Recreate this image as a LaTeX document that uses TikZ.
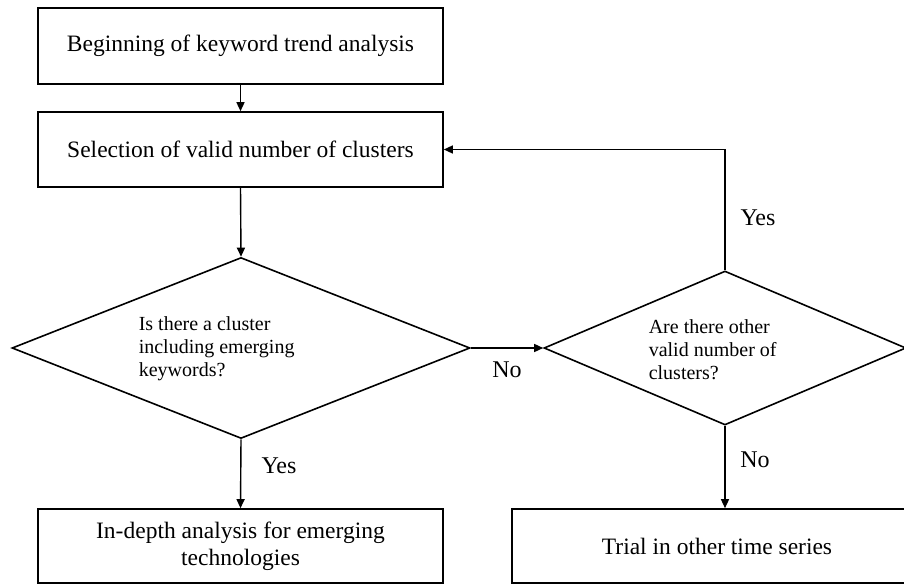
\documentclass[tikz,border=0pt]{standalone}
\usepackage{fontspec}
\setmainfont{Liberation Serif}
\usetikzlibrary{arrows.meta,shapes.geometric}
\begin{document}
\begin{tikzpicture}[x=1pt,y=-1pt,
  line width=1.6pt,
  stepbox/.style={draw,rectangle,inner sep=0pt,align=center,
    font=\fontsize{23.5}{27}\selectfont},
  decision/.style={draw,diamond,inner sep=0pt},
  qtext/.style={align=left,anchor=west,inner sep=0pt,
    font=\fontsize{20}{23}\selectfont},
  lbl/.style={inner sep=0pt,font=\fontsize{24}{26}\selectfont},
  flow/.style={-{Triangle[length=9pt,width=8pt]},line width=1.4pt}]
\useasboundingbox (0,0) rectangle (904,585);
\clip (0,0) rectangle (904,585);

% process boxes
\node[stepbox,minimum width=405pt,minimum height=76pt] (b1) at (240.5,46)
  {Beginning of keyword trend analysis};
\node[stepbox,minimum width=405pt,minimum height=75pt] (b2) at (240.5,149.5)
  {Selection of valid number of clusters};
\node[stepbox,minimum width=405pt,minimum height=74pt] (b3) at (240.5,546)
  {In-depth analysis for emerging\\technologies};
\node[stepbox,minimum width=410pt,minimum height=74pt] (b4) at (717,546)
  {Trial in other time series};

% decisions
\node[decision,minimum width=458pt,minimum height=181pt] (d1) at (241,348) {};
\node[qtext] (q1) at (138,349)
  {Is there a cluster\\including emerging\\keywords?};
\node[decision,minimum width=362pt,minimum height=154pt] (d2) at (725,348) {};
\node[qtext] (q2) at (648,350)
  {Are there other\\valid number of\\clusters?};

% connectors
\draw[flow] (b1.south) -- (b2.north);
\draw[flow] (b2.south) -- (d1.north);
\draw[flow] (d1.east) -- (d2.west);
\draw[flow] (d2.north) |- (b2.east);
\draw[flow] (d1.south) -- (b3.north);
\draw[flow] (d2.south) -- (d2.south |- b4.north);

% branch labels
\node[lbl] (ynext) at (507,370) {No};
\node[lbl] (yback) at (758,218) {Yes};
\node[lbl] (ydeep) at (279,466) {Yes};
\node[lbl] (nend) at (755,460) {No};
\end{tikzpicture}
\end{document}
